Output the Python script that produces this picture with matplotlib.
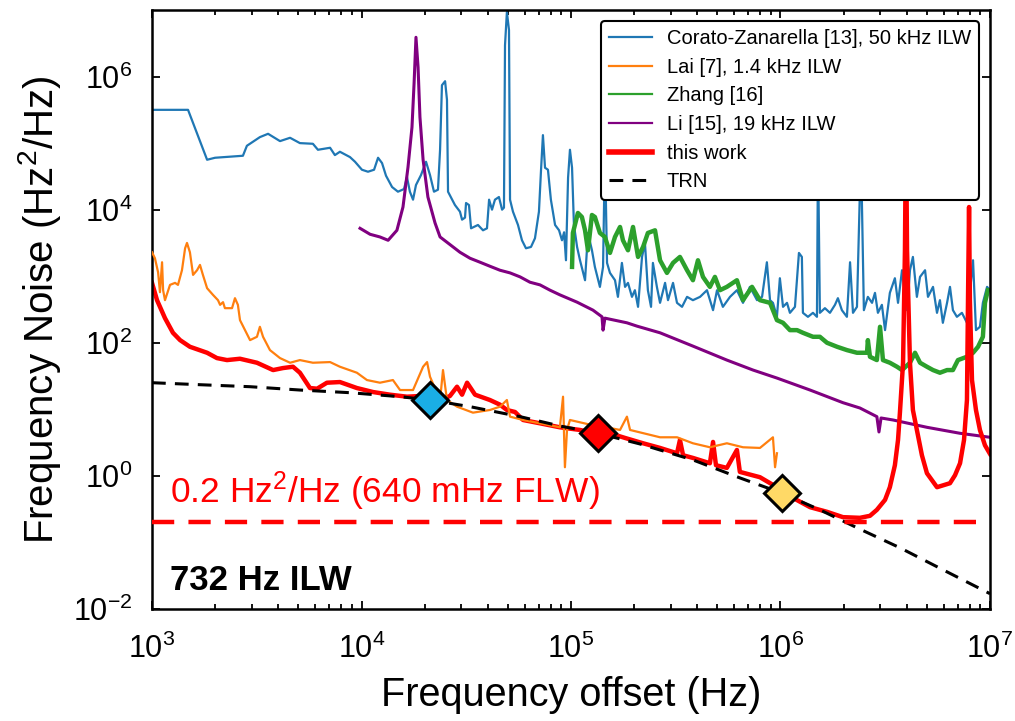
import numpy as np
import matplotlib
matplotlib.use("Agg")
import matplotlib.pyplot as plt

plt.rcParams["font.family"] = ["Liberation Sans", "DejaVu Sans"]
plt.rcParams["mathtext.fontset"] = "custom"
plt.rcParams["mathtext.rm"] = "Liberation Sans"
plt.rcParams["mathtext.it"] = "Liberation Sans:italic"
plt.rcParams["mathtext.bf"] = "Liberation Sans:bold"
plt.rcParams["mathtext.default"] = "regular"

# all series as log10(frequency / Hz), log10(noise / Hz^2/Hz)
corato_logf = [3.000, 3.172, 3.263, 3.301, 3.434, 3.453, 3.515, 3.554, 3.611, 3.659, 3.706, 3.768, 3.792, 3.850,
               3.873, 3.897, 3.945, 3.969, 4.002, 4.031, 4.060, 4.079, 4.098, 4.117, 4.146, 4.174, 4.203, 4.217,
               4.231, 4.246, 4.260, 4.284, 4.308, 4.327, 4.346, 4.365, 4.375, 4.384, 4.399, 4.408, 4.413, 4.446,
               4.470, 4.480, 4.494, 4.499, 4.513, 4.523, 4.556, 4.580, 4.599, 4.609, 4.623, 4.637, 4.656, 4.671,
               4.680, 4.685, 4.694, 4.704, 4.709, 4.723, 4.747, 4.766, 4.785, 4.809, 4.828, 4.847, 4.857, 4.866,
               4.876, 4.890, 4.904, 4.924, 4.943, 4.957, 4.967, 4.976, 4.986, 4.995, 5.005, 5.014, 5.029, 5.043,
               5.067, 5.081, 5.100, 5.114, 5.138, 5.153, 5.162, 5.172, 5.186, 5.210, 5.224, 5.243, 5.258, 5.272,
               5.291, 5.305, 5.320, 5.339, 5.353, 5.367, 5.382, 5.391, 5.410, 5.425, 5.449, 5.463, 5.487, 5.506,
               5.530, 5.554, 5.582, 5.616, 5.649, 5.678, 5.697, 5.725, 5.759, 5.792, 5.821, 5.854, 5.888, 5.912,
               5.935, 5.950, 5.964, 5.983, 5.997, 6.012, 6.031, 6.045, 6.069, 6.088, 6.102, 6.107, 6.131, 6.155,
               6.174, 6.179, 6.188, 6.212, 6.236, 6.260, 6.274, 6.293, 6.317, 6.332, 6.346, 6.365, 6.384, 6.398,
               6.417, 6.437, 6.451, 6.465, 6.484, 6.499, 6.522, 6.546, 6.561, 6.580, 6.604, 6.618, 6.632, 6.651,
               6.666, 6.690, 6.704, 6.728, 6.747, 6.761, 6.775, 6.795, 6.809, 6.823, 6.842, 6.866, 6.890, 6.919,
               6.933, 6.952, 6.966, 6.986, 7.000]
corato_logS = [5.50, 5.50, 4.75, 4.78, 4.81, 4.96, 5.09, 5.14, 5.03, 5.08, 5.00, 4.99, 4.90, 4.93,
               4.82, 4.87, 4.79, 4.72, 4.60, 4.57, 4.60, 4.78, 4.70, 4.51, 4.34, 4.27, 4.31, 4.49,
               4.27, 4.15, 4.37, 4.52, 4.72, 4.52, 4.27, 4.30, 4.90, 5.87, 5.93, 5.65, 4.27, 4.07,
               3.97, 3.85, 3.88, 4.10, 4.07, 3.72, 3.77, 3.69, 3.72, 4.15, 4.00, 4.15, 4.19, 4.00,
               4.03, 6.47, 6.97, 6.70, 4.15, 3.97, 3.77, 3.54, 3.42, 3.44, 3.57, 3.97, 4.60, 5.12,
               4.63, 4.60, 4.15, 3.77, 3.69, 3.54, 3.66, 3.24, 4.48, 4.90, 4.63, 3.77, 3.44, 3.24,
               2.94, 3.65, 3.39, 3.14, 2.84, 3.14, 4.90, 3.20, 3.05, 2.94, 2.69, 3.20, 2.84, 2.90,
               2.69, 2.79, 2.54, 3.29, 3.50, 2.79, 2.54, 3.20, 2.84, 2.60, 2.90, 2.64, 2.90, 2.60,
               2.54, 2.69, 2.64, 2.69, 2.79, 2.49, 2.79, 2.54, 2.69, 2.79, 2.60, 2.84, 2.64, 2.69,
               3.21, 2.64, 2.60, 2.39, 2.97, 2.54, 2.60, 2.45, 2.54, 3.35, 3.29, 2.45, 2.39, 2.45,
               2.39, 4.90, 2.45, 2.52, 2.45, 2.57, 2.67, 2.49, 2.39, 3.21, 2.45, 2.54, 4.90, 2.49,
               2.69, 2.60, 2.75, 2.45, 2.57, 2.19, 2.75, 2.97, 2.60, 3.09, 2.49, 3.09, 3.29, 2.69,
               2.99, 3.09, 2.69, 2.84, 2.45, 2.64, 2.30, 2.60, 2.84, 2.49, 2.39, 2.45, 2.30, 3.24,
               2.19, 2.24, 2.60, 2.84, 2.79]

lai_logf = [3.000, 3.014, 3.029, 3.038, 3.048, 3.053, 3.062, 3.086, 3.110, 3.124, 3.143, 3.158, 3.167, 3.181,
            3.196, 3.215, 3.229, 3.243, 3.263, 3.291, 3.315, 3.325, 3.339, 3.348, 3.382, 3.396, 3.410, 3.420,
            3.468, 3.501, 3.515, 3.530, 3.563, 3.611, 3.659, 3.706, 3.768, 3.850, 3.897, 3.978, 4.026, 4.088,
            4.150, 4.184, 4.246, 4.294, 4.313, 4.327, 4.375, 4.389, 4.408, 4.456, 4.532, 4.613, 4.661, 4.694,
            4.709, 4.771, 4.852, 4.947, 4.962, 4.971, 4.981, 4.995, 5.091, 5.186, 5.234, 5.267, 5.282, 5.425,
            5.506, 5.582, 5.663, 5.744, 5.821, 5.902, 5.964, 5.974, 5.983]
lai_logS = [3.36, 3.27, 3.06, 2.76, 3.21, 2.79, 2.64, 2.87, 2.90, 2.87, 3.09, 3.42, 3.50, 3.36,
            3.02, 3.09, 3.17, 3.02, 2.82, 2.72, 2.64, 2.57, 2.61, 2.52, 2.52, 2.67, 2.57, 2.34,
            2.04, 2.09, 2.24, 2.09, 1.89, 1.77, 1.70, 1.74, 1.70, 1.71, 1.64, 1.55, 1.44, 1.40,
            1.44, 1.29, 1.29, 1.64, 1.71, 1.49, 1.14, 1.59, 1.14, 1.04, 0.95, 0.99, 1.04, 1.14,
            0.89, 0.84, 0.79, 0.73, 1.19, 0.13, 0.69, 0.84, 0.77, 0.72, 0.69, 0.89, 0.69, 0.58,
            0.58, 0.49, 0.43, 0.49, 0.43, 0.42, 0.58, 0.13, 0.34]

zhang_logf = [5.005, 5.009, 5.033, 5.052, 5.067, 5.081, 5.100, 5.114, 5.138, 5.162, 5.186, 5.210, 5.234, 5.248,
              5.272, 5.296, 5.320, 5.344, 5.367, 5.401, 5.425, 5.458, 5.487, 5.520, 5.554, 5.582, 5.606, 5.630,
              5.663, 5.687, 5.711, 5.744, 5.792, 5.821, 5.864, 5.902, 5.950, 5.983, 6.012, 6.045, 6.079, 6.107,
              6.155, 6.188, 6.222, 6.270, 6.317, 6.365, 6.413, 6.417, 6.427, 6.460, 6.475, 6.489, 6.522, 6.556,
              6.580, 6.618, 6.642, 6.666, 6.699, 6.728, 6.761, 6.795, 6.823, 6.847, 6.890, 6.919, 6.943, 6.966,
              6.976, 6.990]
zhang_logS = [3.14, 3.65, 3.95, 3.89, 3.69, 3.39, 3.92, 3.89, 3.65, 3.59, 3.35, 3.59, 3.74, 3.54,
              3.39, 3.74, 3.29, 3.44, 3.65, 3.69, 3.24, 3.05, 3.20, 3.29, 3.09, 2.94, 3.24, 2.99,
              2.84, 2.99, 2.79, 2.84, 2.94, 2.64, 2.84, 2.64, 2.60, 2.34, 2.30, 2.19, 2.19, 2.15,
              2.09, 2.09, 2.00, 1.94, 1.89, 1.85, 1.85, 2.04, 1.79, 1.74, 2.24, 1.74, 1.70, 1.64,
              1.59, 1.70, 1.85, 1.70, 1.64, 1.59, 1.55, 1.59, 1.59, 1.74, 1.79, 1.85, 1.94, 2.09,
              2.60, 2.79]

li_logf = [3.993, 4.041, 4.088, 4.127, 4.169, 4.198, 4.222, 4.241, 4.251, 4.260, 4.270, 4.279, 4.294, 4.317,
           4.351, 4.375, 4.437, 4.470, 4.518, 4.566, 4.613, 4.661, 4.709, 4.757, 4.804, 4.852, 4.900, 4.947,
           5.029, 5.105, 5.148, 5.153, 5.162, 5.267, 5.315, 5.425, 5.582, 5.744, 5.869, 5.983, 6.141, 6.298,
           6.379, 6.460, 6.470, 6.480, 6.537, 6.699, 6.857, 7.000]
li_logS = [3.72, 3.63, 3.59, 3.54, 3.69, 4.04, 4.64, 5.24, 5.90, 6.59, 6.14, 5.39, 4.75, 4.19,
           3.80, 3.59, 3.44, 3.36, 3.27, 3.21, 3.15, 3.09, 3.05, 2.99, 2.91, 2.87, 2.79, 2.72,
           2.61, 2.49, 2.39, 2.19, 2.37, 2.30, 2.25, 2.15, 1.95, 1.74, 1.59, 1.47, 1.29, 1.10,
           1.02, 0.89, 0.66, 0.87, 0.84, 0.73, 0.64, 0.58]

work_logf = [3.000, 3.024, 3.062, 3.100, 3.134, 3.181, 3.263, 3.310, 3.358, 3.420, 3.501, 3.578, 3.625, 3.673,
             3.706, 3.754, 3.788, 3.835, 3.897, 3.978, 4.055, 4.136, 4.217, 4.279, 4.375, 4.422, 4.456, 4.480,
             4.504, 4.542, 4.613, 4.661, 4.694, 4.733, 4.771, 4.852, 4.947, 5.043, 5.129, 5.186, 5.258, 5.344,
             5.425, 5.506, 5.520, 5.535, 5.582, 5.663, 5.678, 5.692, 5.744, 5.792, 5.806, 5.902, 5.983, 6.059,
             6.141, 6.222, 6.298, 6.379, 6.427, 6.460, 6.499, 6.522, 6.546, 6.561, 6.570, 6.585, 6.594, 6.599,
             6.604, 6.618, 6.632, 6.651, 6.675, 6.699, 6.747, 6.809, 6.833, 6.857, 6.876, 6.890, 6.895, 6.900,
             6.904, 6.914, 6.933, 6.952, 6.976, 7.000]
work_logS = [2.90, 2.64, 2.37, 2.15, 2.04, 1.94, 1.85, 1.77, 1.74, 1.76, 1.70, 1.59, 1.62, 1.64,
             1.55, 1.32, 1.31, 1.40, 1.41, 1.32, 1.26, 1.22, 1.19, 1.20, 1.14, 1.20, 1.34, 1.22,
             1.40, 1.22, 1.14, 1.07, 0.99, 0.96, 0.84, 0.79, 0.73, 0.69, 0.63, 0.64, 0.57, 0.49,
             0.42, 0.34, 0.54, 0.31, 0.27, 0.19, 0.51, 0.16, 0.12, 0.39, 0.06, -0.02, -0.17, -0.33,
             -0.47, -0.54, -0.62, -0.63, -0.60, -0.51, -0.36, -0.17, 0.16, 0.54, 0.95, 1.70, 3.39, 5.35,
             3.39, 1.70, 0.99, 0.69, 0.31, 0.04, -0.17, -0.11, 0.01, 0.19, 0.54, 1.14, 2.64, 4.04,
             2.64, 1.44, 0.99, 0.69, 0.46, 0.33]

trn_logf = [3.000, 3.229, 3.468, 3.706, 3.945, 4.184, 4.327, 4.518, 4.757, 4.947, 5.129, 5.329, 5.582, 5.806,
            6.007, 6.188, 6.379, 6.570, 6.775, 7.000]
trn_logS = [1.40, 1.37, 1.34, 1.29, 1.25, 1.19, 1.14, 1.04, 0.89, 0.75, 0.64, 0.48, 0.24, -0.03,
            -0.26, -0.51, -0.80, -1.08, -1.41, -1.77]

marker_f = [2.12e4, 1.35e5, 1.02e6]
marker_S = [14.0, 4.4, 0.56]
marker_colors = ["#1aaee5", "#ff0000", "#ffd966"]

flw_level = 0.2

series = [
    ("Corato-Zanarella [13], 50 kHz ILW", corato_logf, corato_logS, "#1f77b4", 1.6, 2),
    ("Lai [7], 1.4 kHz ILW", lai_logf, lai_logS, "#ff7f0e", 1.6, 3),
    ("Zhang [16]", zhang_logf, zhang_logS, "#2ca02c", 3.2, 2),
    ("Li [15], 19 kHz ILW", li_logf, li_logS, "#800080", 2.2, 2),
    ("this work", work_logf, work_logS, "#ff0000", 3.2, 2.5),
]

fig = plt.figure(figsize=(10.15, 7.21), dpi=100)
ax = fig.add_axes([152 / 1015, 1 - 609 / 721, 838 / 1015, 599 / 721])

for label, lf, ls, color, lw, z in series:
    ax.plot(10 ** np.array(lf), 10 ** np.array(ls), color=color, lw=lw, label=label, zorder=z)

ax.plot(10 ** np.array(trn_logf), 10 ** np.array(trn_logS), color="black", lw=2.2,
        linestyle=(0, (4.5, 3)), label="TRN", zorder=4)
ax.axhline(flw_level, color="#ff0000", lw=3.2, linestyle=(0, (5, 3.2)), zorder=4)

for f, s, c in zip(marker_f, marker_S, marker_colors):
    ax.plot(f, s, marker="D", markersize=18.5, markerfacecolor=c, markeredgecolor="black",
            markeredgewidth=2.2, linestyle="none", zorder=6)

ax.text(0.0215, 0.178, r"0.2 Hz$^2$/Hz (640 mHz FLW)", transform=ax.transAxes, color="#ff0000",
        fontsize=25.5, va="baseline", ha="left")
ax.text(0.0215, 0.032, "732 Hz ILW", transform=ax.transAxes, color="black",
        fontsize=25, fontweight="bold", va="baseline", ha="left")

ax.set_xscale("log")
ax.set_yscale("log")
ax.set_xlim(1e3, 1e7)
ax.set_ylim(1e-2, 1e7)
ax.set_yticks([1e-2, 1e0, 1e2, 1e4, 1e6])
ax.yaxis.set_minor_locator(matplotlib.ticker.NullLocator())

ax.tick_params(which="both", direction="in", top=True, right=True, labelsize=22, width=1.3)
ax.tick_params(which="major", length=6)
ax.tick_params(which="minor", length=3.5)
ax.tick_params(axis="x", pad=18)
ax.tick_params(axis="y", pad=14)
for spine in ax.spines.values():
    spine.set_linewidth(1.8)

ax.set_xlabel("Frequency offset (Hz)", fontsize=28.5, labelpad=8)
ax.set_ylabel("Frequency Noise (Hz$^2$/Hz)", fontsize=29, labelpad=7)

leg = ax.legend(loc="upper right", fontsize=14.5, handlelength=2.1, handletextpad=0.75,
                labelspacing=0.48, borderaxespad=0.55, framealpha=1, edgecolor="black")
leg.get_frame().set_linewidth(1.5)
for h in leg.get_lines():
    if h.get_label() == "this work":
        h.set_linewidth(4)
    elif h.get_label() != "TRN":
        h.set_linewidth(1.6)

fig.savefig("out.png", dpi=100)
